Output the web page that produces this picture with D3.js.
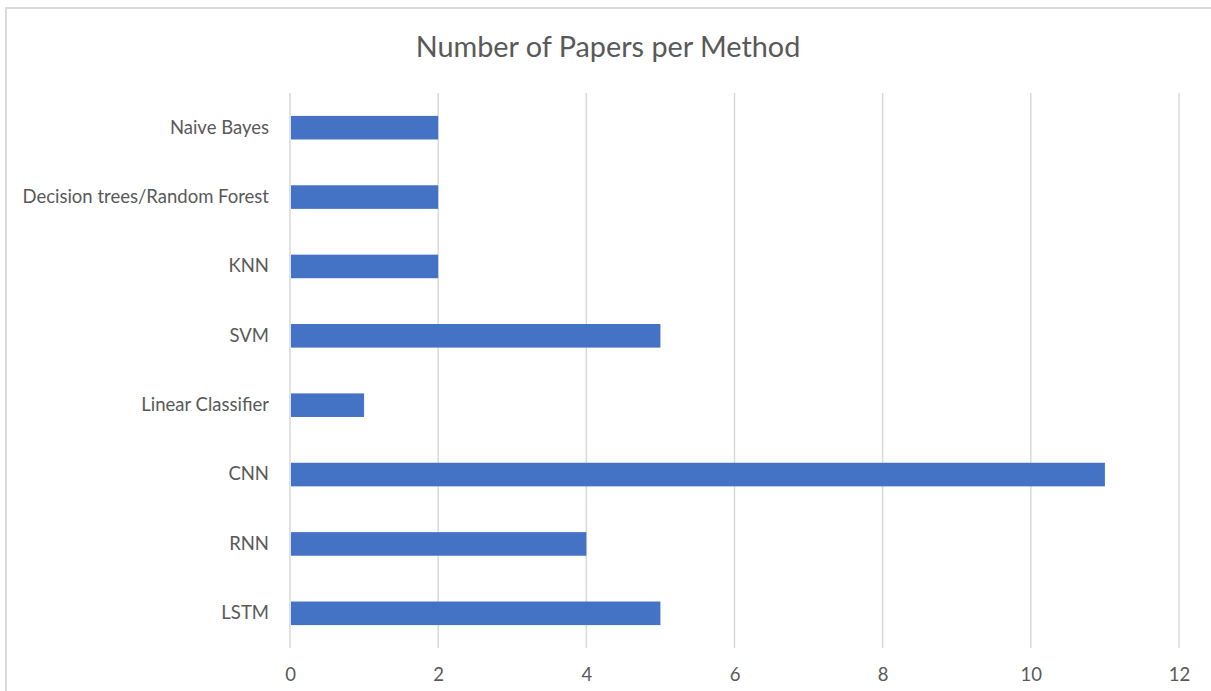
<!DOCTYPE html>
<html>
<head>
<meta charset="utf-8">
<script src="https://cdn.jsdelivr.net/npm/d3@7"></script>
<style>
  html, body { margin: 0; padding: 0; background: #fff; }
  svg { display: block; font-family: Lato, "Open Sans", sans-serif; }
</style>
</head>
<body>
<div id="chart"></div>
<script>
// data, top to bottom as drawn
var methods = ["Naive Bayes", "Decision trees/Random Forest", "KNN", "SVM",
    "Linear Classifier", "CNN", "RNN", "LSTM"];
var papers = [2, 2, 2, 5, 1, 11, 4, 5];
var xTicks = [0, 2, 4, 6, 8, 10, 12];
var chartTitle = "Number of Papers per Method";

var width = 1211,
    height = 691,
    textColor = "#595959",
    gridColor = "#d9d9d9",
    barColor = "#4472c4",
    labelSize = "18.5px";

var margin = { top: 93, right: 32, bottom: 43, left: 290 };

var svg = d3.select("#chart")
    .append("svg")
    .attr("width", width)
    .attr("height", height);

// chart frame (runs off the right and bottom of the picture)
svg.append("rect")
    .attr("x", 6)
    .attr("y", 8)
    .attr("width", width + 20)
    .attr("height", height + 20)
    .style("fill", "#fff")
    .style("stroke", gridColor)
    .style("stroke-width", "2px");

svg.append("text")
    .attr("x", 608)
    .attr("y", 57)
    .attr("text-anchor", "middle")
    .text(chartTitle)
    .style("fill", textColor)
    .style("font-size", "28.8px");

var x = d3.scaleLinear()
    .domain([0, 12])
    .range([margin.left, width - margin.right]);

var y = d3.scaleBand()
    .domain(methods)
    .range([margin.top, height - margin.bottom])
    .paddingInner(0.66)
    .paddingOuter(0.33);

// grid lines
svg.append("g")
    .selectAll("line")
    .data(xTicks)
    .join("line")
    .attr("x1", d => x(d))
    .attr("x2", d => x(d))
    .attr("y1", margin.top)
    .attr("y2", height - margin.bottom)
    .style("stroke", gridColor)
    .style("stroke-width", "1.5px");

// bars
svg.append("g")
    .selectAll("rect")
    .data(methods)
    .join("rect")
    .attr("x", x(0) + 1)
    .attr("y", d => y(d))
    .attr("width", (d, i) => x(papers[i]) - x(0) - 1)
    .attr("height", y.bandwidth())
    .style("fill", barColor);

// x axis labels
var xAxis = d3.axisBottom(x)
    .tickValues(xTicks)
    .tickSize(0)
    .tickPadding(20);

var gx = svg.append("g")
    .attr("transform", "translate(0," + (height - margin.bottom) + ")")
    .call(xAxis);

gx.select(".domain").remove();
gx.selectAll(".tick text")
    .style("fill", textColor)
    .style("font-family", "Lato, 'Open Sans', sans-serif")
    .style("font-size", labelSize);

// category labels
var yAxis = d3.axisLeft(y)
    .tickSize(0)
    .tickPadding(21);

var gy = svg.append("g")
    .attr("transform", "translate(" + margin.left + ",0)")
    .call(yAxis);

gy.select(".domain").remove();
gy.selectAll(".tick text")
    .style("fill", textColor)
    .style("font-family", "Lato, 'Open Sans', sans-serif")
    .style("font-size", labelSize);
</script>
</body>
</html>
